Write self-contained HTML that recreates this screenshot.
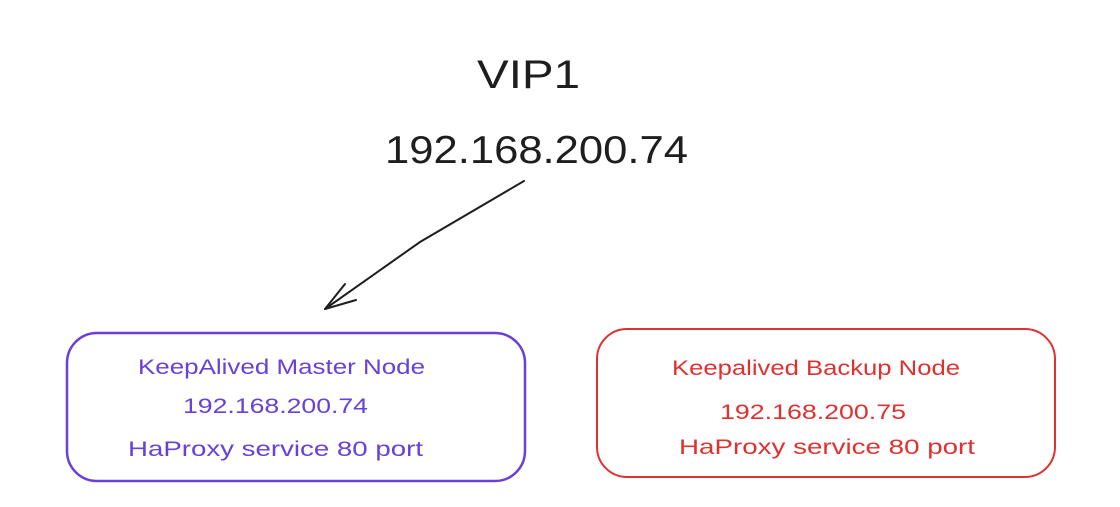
<!DOCTYPE html>
<html><head><meta charset="utf-8"><style>
html,body{margin:0;padding:0;background:#fff;width:1120px;height:507px;overflow:hidden}
svg{display:block}
text{font-family:"Liberation Sans",sans-serif}
</style></head><body>
<svg width="1120" height="507" viewBox="0 0 1120 507" xmlns="http://www.w3.org/2000/svg">
<text x="477" y="88" font-size="40" fill="#1e1e1e" textLength="103" lengthAdjust="spacingAndGlyphs">VIP1</text>
<text x="385" y="163" font-size="39" fill="#1e1e1e" textLength="303" lengthAdjust="spacingAndGlyphs">192.168.200.74</text>
<path d="M524 181 L420 242 L325 309" fill="none" stroke="#1e1e1e" stroke-width="2" stroke-linecap="round"/>
<path d="M345 284 L325 309 L356 300" fill="none" stroke="#1e1e1e" stroke-width="2" stroke-linecap="round" stroke-linejoin="round"/>
<rect x="67" y="333" width="458" height="148" rx="30" fill="none" stroke="#6741d9" stroke-width="2.5"/>
<rect x="597" y="329" width="458" height="148" rx="30" fill="none" stroke="#e03131" stroke-width="2"/>
<g fill="#6741d9" font-size="21">
<text x="138" y="374" textLength="287" lengthAdjust="spacingAndGlyphs">KeepAlived Master Node</text>
<text x="183" y="413" textLength="185" lengthAdjust="spacingAndGlyphs">192.168.200.74</text>
<text x="128" y="456" textLength="295" lengthAdjust="spacingAndGlyphs">HaProxy service 80 port</text>
</g>
<g fill="#e03131" font-size="21">
<text x="672" y="375" textLength="288" lengthAdjust="spacingAndGlyphs">Keepalived Backup Node</text>
<text x="720" y="419" textLength="186" lengthAdjust="spacingAndGlyphs">192.168.200.75</text>
<text x="679" y="454" textLength="296" lengthAdjust="spacingAndGlyphs">HaProxy service 80 port</text>
</g>
</svg>
</body></html>
